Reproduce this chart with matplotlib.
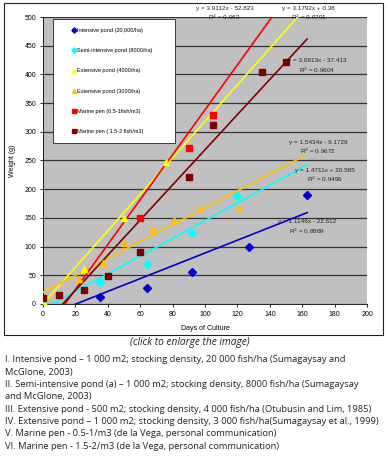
import matplotlib
matplotlib.use("Agg")
import matplotlib.pyplot as plt
from matplotlib.patches import Rectangle

# series (days of culture, weight in g)
intensive_days = [0, 35, 64, 92, 127, 163]
intensive_wt = [0, 12, 28, 56, 100, 190]
semi_days = [0, 35, 64, 92, 120]
semi_wt = [2, 38, 70, 124, 189]
ext4000_days = [0, 25, 50, 76]
ext4000_wt = [3, 61, 150, 248]
ext3000_days = [0, 22, 37, 50, 68, 81, 97, 121]
ext3000_wt = [10, 44, 72, 107, 131, 147, 168, 168]
pen1_days = [60, 90, 105]
pen1_wt = [150, 271, 330]
pen2_days = [0, 10, 25, 40, 60, 90, 105, 135, 150]
pen2_wt = [11, 15, 24, 48, 90, 221, 311, 405, 422]

series_names = [
    "Intensive pond (20,000/ha)",
    "Semi-intensive pond (8000/ha)",
    "Extensive pond (4000/ha)",
    "Extensive pond (3000/ha)",
    "Marine pen (0.5-1fish/m3)",
    "Marine pen ( 1.5-2 fish/m3)",
]
series_colors = ["#0000CC", "#00FFFF", "#FFFF00", "#FFC000", "#FF0000", "#800000"]
series_markers = ["D", "D", "^", "^", "s", "s"]

# trend lines as printed on the chart (slope, intercept, last day)
trend_slope = [1.1146, 1.5434, 3.1792, 1.4711, 3.9112, 3.0613]
trend_icept = [-22.612, -9.1729, 0.38, 20.585, -52.823, -37.413]
trend_end = [163, 163, 160, 162, 150, 163]

# equation labels: text and where they sit (day, weight)
eq_text = [
    "y = 1.1146x - 22.612\nR$^2$ = 0.8869",
    "y = 1.5434x - 9.1729\nR$^2$ = 0.9672",
    "y = 3.1792x + 0.38\nR$^2$ = 0.9791",
    "y = 1.4711x + 20.585\nR$^2$ = 0.9496",
    "y = 3.9112x - 52.823\nR$^2$ = 0.963",
    "y = 3.0613x - 37.413\nR$^2$ = 0.9604",
]
eq_day = [163, 170, 164, 174, 112, 169]
eq_wt = [133, 272, 505, 223, 505, 414]

notes = [
    "I. Intensive pond \u2013 1 000 m2; stocking density, 20 000 fish/ha (Sumagaysay and",
    "McGlone, 2003)",
    "II. Semi-intensive pond (a) \u2013 1 000 m2; stocking density, 8000 fish/ha (Sumagaysay",
    "and McGlone, 2003)",
    "III. Extensive pond - 500 m2; stocking density, 4 000 fish/ha (Otubusin and Lim, 1985)",
    "IV. Extensive pond \u2013 1 000 m2; stocking density, 3 000 fish/ha(Sumagaysay et al., 1999)",
    "V. Marine pen - 0.5-1/m3 (de la Vega, personal communication)",
    "VI. Marine pen - 1.5-2/m3 (de la Vega, personal communication)",
]

plt.rcParams["font.family"] = ["Liberation Sans", "DejaVu Sans"]

W, H = 388, 462
fig = plt.figure(figsize=(W / 100, H / 100), dpi=100)
fig.patch.set_facecolor("white")

# outer chart frame
fig.patches.append(Rectangle((4 / W, 1 - 335 / H), 379 / W, 332 / H,
                             transform=fig.transFigure, fill=False,
                             edgecolor="#222222", linewidth=0.8))

ax = fig.add_axes([43 / W, 1 - 304 / H, 324 / W, 287 / H])
ax.set_facecolor("#C0C0C0")

all_days = [intensive_days, semi_days, ext4000_days, ext3000_days, pen1_days, pen2_days]
all_wt = [intensive_wt, semi_wt, ext4000_wt, ext3000_wt, pen1_wt, pen2_wt]

for i in range(6):
    ax.plot(all_days[i], all_wt[i], linestyle="none", marker=series_markers[i],
            markersize=4.2 if series_markers[i] != "D" else 3.8,
            color=series_colors[i], markeredgecolor=series_colors[i],
            label=series_names[i], zorder=4)
    x0, x1 = 0, trend_end[i]
    ax.plot([x0, x1],
            [trend_slope[i] * x0 + trend_icept[i], trend_slope[i] * x1 + trend_icept[i]],
            color=series_colors[i], linewidth=1.2, zorder=3)

for t, d, w in zip(eq_text, eq_day, eq_wt):
    ax.text(d, w, t, fontsize=4.6, ha="center", va="center", color="#222222",
            linespacing=1.3, clip_on=False, zorder=5)

ax.set_xlim(0, 200)
ax.set_ylim(0, 500)
ax.set_xticks(range(0, 201, 20))
ax.set_yticks(range(0, 501, 50))
ax.tick_params(labelsize=5, length=2, width=0.6, pad=3)
ax.yaxis.grid(True, color="#333333", linewidth=0.9)
ax.set_axisbelow(True)
for s in ["top", "right"]:
    ax.spines[s].set_visible(False)
for s in ["left", "bottom"]:
    ax.spines[s].set_linewidth(0.6)
ax.set_xlabel("Days of Culture", fontsize=5, labelpad=5)
ax.set_ylabel("Weight (g)", fontsize=5, labelpad=6)

leg = ax.legend(loc="upper left", bbox_to_anchor=(0.031, 0.993, 0.377, 0.0),
                mode="expand", borderaxespad=0,
                fontsize=4.0, labelspacing=2.75, handlelength=4.2, handletextpad=-1.4,
                borderpad=1.6, fancybox=False, framealpha=1, edgecolor="#222222",
                markerscale=0.7)
leg.get_frame().set_linewidth(0.6)
leg._legend_box.align = "left"

fig.text(190 / W, 1 - 343 / H, "(click to enlarge the image)", fontsize=7.3,
         style="italic", ha="center", va="center", family="Open Sans", color="#222222")

for k, line in enumerate(notes):
    fig.text(5 / W, 1 - (360 + k * 12.3) / H, line, fontsize=6.75, ha="left",
             va="center", family="Open Sans", color="#222222")

fig.savefig("out.png", dpi=100)
